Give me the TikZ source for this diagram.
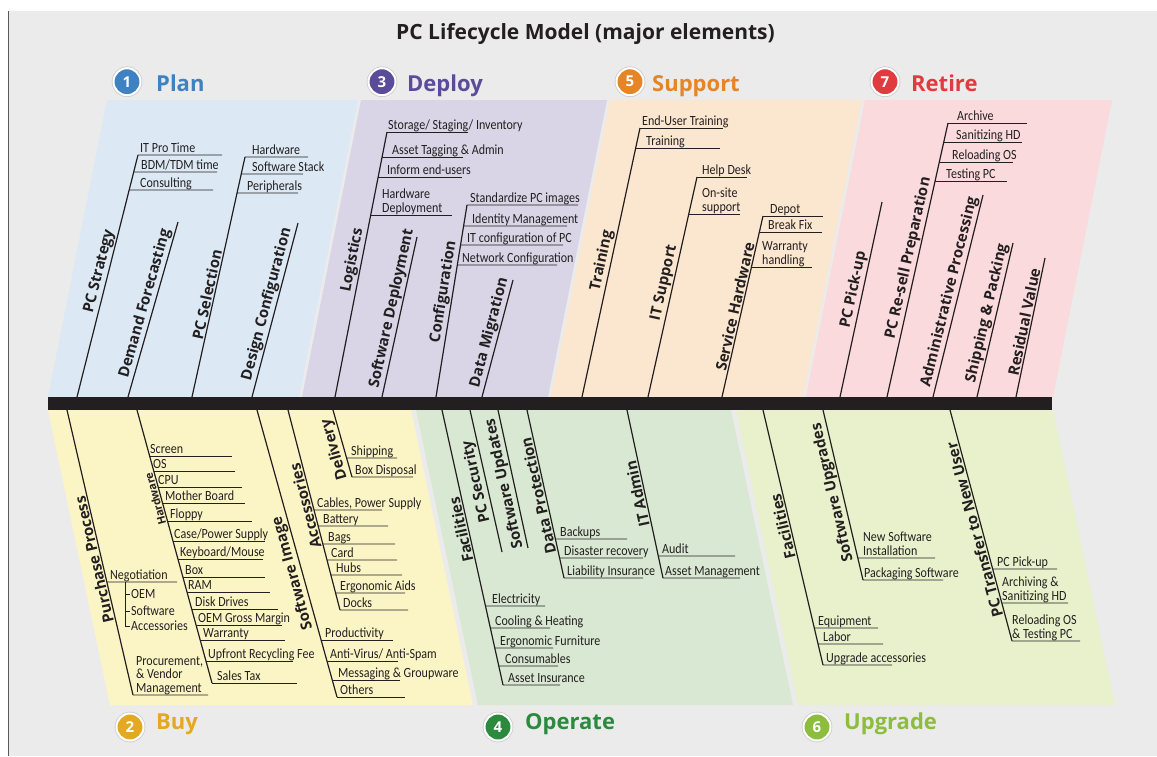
\documentclass[tikz,border=0pt]{standalone}
\usepackage{fontspec}
\usetikzlibrary{calc}
\newfontfamily\leafface[FakeStretch=0.86]{Carlito}
\newfontfamily\osans{Open Sans}
\newcommand\leaffont{\leafface\fontsize{14}{13.5}\selectfont}
\newcommand\catfont{\osans\bfseries\fontsize{15}{16}\selectfont}
\newcommand\smallcatfont{\osans\bfseries\fontsize{11}{12}\selectfont}
\newcommand\hdrfont{\osans\bfseries\fontsize{22}{24}\selectfont}
\newcommand\numfont{\osans\bfseries\fontsize{15}{16}\selectfont}
\newcommand\titlefont{\osans\bfseries\fontsize{21}{23}\selectfont}
\newcounter{lfc}
\definecolor{bg}{HTML}{EBEBEB}
\definecolor{pPlan}{HTML}{DCE9F5}
\definecolor{pDeploy}{HTML}{D9D5E7}
\definecolor{pSupport}{HTML}{FBE7CF}
\definecolor{pRetire}{HTML}{FADADC}
\definecolor{pBuy}{HTML}{FBF5C6}
\definecolor{pOperate}{HTML}{D9E8D2}
\definecolor{pUpgrade}{HTML}{E9F1CC}
\definecolor{cPlan}{HTML}{3F82C4}
\definecolor{cDeploy}{HTML}{5B4C9A}
\definecolor{cSupport}{HTML}{E58526}
\definecolor{cRetire}{HTML}{E03C3F}
\definecolor{cBuy}{HTML}{E4A922}
\definecolor{cOperate}{HTML}{2B8A3E}
\definecolor{cUpgrade}{HTML}{8CBD3C}
\definecolor{ink}{HTML}{231F20}
% bone: name, x0, y0, x1, y1
\newcommand\bone[5]{%
  \coordinate (#1s) at (#2,#3);
  \coordinate (#1e) at (#4,#5);
  \draw[bone] (#1s) -- (#1e);}
% leaf: bone, y, x end, x text, text
\newcommand\lf[5]{%
  \stepcounter{lfc}%
  \coordinate (lp\arabic{lfc}) at (intersection of #1s--#1e and 0,#2--1200,#2);
  \draw[uline] (lp\arabic{lfc}) -- (#3,#2);
  \node[leaf] (lt\arabic{lfc}) at (#4,#2-0.3) {#5\vphantom{gy}};}
% labels
\newcommand\tlab[4][]{\path (#2s) -- (#2e) node[cat, sloped, pos=#3, above=1pt, #1] (#2l) {#4};}
\newcommand\blab[4][]{\path (#2e) -- (#2s) node[cat, sloped, allow upside down, pos=#3, above=1pt, #1] (#2l) {#4};}
\begin{document}
\begin{tikzpicture}[x=1pt,y=-1pt,
  bone/.style={line width=1.2pt, draw=ink},
  uline/.style={line width=0.9pt, draw=ink},
  leaf/.style={font=\leaffont, anchor=south west, inner sep=0pt, align=left, text=ink},
  cat/.style={font=\catfont, inner sep=0.5pt, text=ink},
  hdr/.style={font=\hdrfont, anchor=base west, inner sep=0pt},
  numc/.style={circle, minimum size=27pt, inner sep=0pt, draw=white, line width=2pt,
    font=\numfont, text=white, preaction={draw=black!20, line width=3.6pt}},
  panel/.style={draw=none}]
\useasboundingbox (0,0) rectangle (1157,756);
\fill[white] (0,0) rectangle (1157,756);
\fill[bg] (9,11) rectangle (1157,756);
\draw[black!65, line width=1.5pt] (8.5,11) -- (8.5,756);
% panels
\fill[pPlan]    (48,397) -- (107,100) -- (358,100) -- (299,397) -- cycle;
\fill[pDeploy]  (302,397) -- (361,100) -- (607,100) -- (548,397) -- cycle;
\fill[pSupport] (551,397) -- (610,100) -- (862,100) -- (803,397) -- cycle;
\fill[pRetire]  (806,397) -- (865,100) -- (1112,100) -- (1053,397) -- cycle;
\fill[pBuy]     (48,410) -- (411,410) -- (473,705) -- (110,705) -- cycle;
\fill[pOperate] (416,410) -- (731,410) -- (793,705) -- (478,705) -- cycle;
\fill[pUpgrade] (736,410) -- (1053,410) -- (1115,705) -- (798,705) -- cycle;
% title
\node[font=\titlefont, text=ink, anchor=base, inner sep=0pt] (title) at (585.5,39.5) {PC Lifecycle Model (major elements)};
% headers
\node[numc, fill=cPlan] (n1) at (127,81.7) {1};
\node[hdr, text=cPlan] (h1) at (156,91.5) {Plan};
\node[numc, fill=cDeploy] (n3) at (382,81.7) {3};
\node[hdr, text=cDeploy] (h3) at (407,91.5) {Deploy};
\node[numc, fill=cSupport] (n5) at (630,81.7) {5};
\node[hdr, text=cSupport] (h5) at (652,91.5) {Support};
\node[numc, fill=cRetire] (n7) at (885,81.7) {7};
\node[hdr, text=cRetire] (h7) at (911,91.5) {Retire};
\node[numc, fill=cBuy] (n2) at (130,727) {2};
\node[hdr, text=cBuy] (h2) at (156,729) {Buy};
\node[numc, fill=cOperate] (n4) at (498,727) {4};
\node[hdr, text=cOperate] (h4) at (525,729) {Operate};
\node[numc, fill=cUpgrade] (n6) at (817,727) {6};
\node[hdr, text=cUpgrade] (h6) at (844,729) {Upgrade};
% ---------- top bones ----------
\bone{P1}{77}{397}{138}{155}
\bone{P2}{128}{397}{178}{222}
\bone{P3}{192}{397}{245}{157}
\bone{P4}{252}{397}{298}{223}
\bone{D1}{335}{397}{387}{132}
\bone{D2}{382}{397}{417}{237}
\bone{D3}{436}{397}{467}{205}
\bone{D4}{482}{397}{513}{280}
\bone{S1}{582}{397}{640}{128}
\bone{S2}{648}{397}{697}{177}
\bone{S3}{722}{397}{763}{216}
\bone{R1}{840}{397}{882}{202}
\bone{R2}{887}{397}{948}{123}
\bone{R3}{933}{397}{983}{195}
\bone{R4}{977}{397}{1013}{243}
\bone{R5}{1016}{397}{1045}{258}
% ---------- bottom bones ----------
\bone{B1}{67}{410}{133}{695}
\bone{B2}{137}{410}{212}{683}
\bone{B3}{257}{410}{337}{697}
\bone{B4}{288}{410}{340}{610}
\bone{B5}{333}{410}{352}{477}
\bone{O1}{442}{410}{503}{685}
\bone{O2}{470}{410}{502}{552}
\bone{O3}{498}{410}{528}{548}
\bone{O4}{527}{410}{564}{578}
\bone{O5}{627}{410}{663}{578}
\bone{G1}{763}{410}{823}{665}
\bone{G2}{823}{410}{863}{580}
\bone{G3}{950}{410}{1012}{641}
% spine
\fill[ink] (48,397) rectangle (1052,410);
% ---------- labels ----------
\tlab{P1}{0.51}{PC Strategy}
\tlab{P2}{0.52}{Demand Forecasting}
\tlab{P3}{0.42}{PC Selection}
\tlab{P4}{0.52}{Design Configuration}
\tlab{D1}{0.51}{Logistics}
\tlab{D2}{0.54}{Software Deployment}
\tlab{D3}{0.54}{Configuration}
\tlab{D4}{0.53}{Data Migration}
\tlab{S1}{0.50}{Training}
\tlab{S2}{0.51}{IT Support}
\tlab{S3}{0.49}{Service Hardware}
\tlab{R1}{0.54}{PC Pick-up}
\tlab{R2}{0.50}{PC Re-sell Preparation}
\tlab{R3}{0.51}{Administrative Processing}
\tlab{R4}{0.53}{Shipping \& Packing}
\tlab{R5}{0.53}{Residual Value}
\blab{B1}{0.48}{Purchase Process}
\blab[font=\smallcatfont]{B2}{0.68}{Hardware}
\blab{B3}{0.44}{Software Image}
\blab{B4}{0.53}{Accessories}
\blab{B5}{0.45}{Delivery}
\blab{O1}{0.57}{Facilities}
\blab{O2}{0.51}{PC Security}
\blab{O3}{0.48}{Software Updates}
\blab{O4}{0.50}{Data Protection}
\blab{O5}{0.51}{IT Admin}
\blab{G1}{0.55}{Facilities}
\blab{G2}{0.53}{Software Upgrades}
\blab{G3}{0.49}{PC Transfer to New User}
% ---------- leaves: Plan ----------
\lf{P1}{155}{222}{140}{IT Pro Time}
\lf{P1}{172}{217}{141}{BDM/TDM time}
\lf{P1}{190}{213}{140}{Consulting}
\lf{P3}{157}{308}{252}{Hardware}
\lf{P3}{174}{303}{252}{Software Stack}
\lf{P3}{193}{298}{247}{Peripherals}
% Deploy
\lf{D1}{132}{468}{388}{Storage/ Staging/ Inventory}
\lf{D1}{157}{463}{392}{Asset Tagging \& Admin}
\lf{D1}{177}{462}{387}{Inform end-users}
\lf{D1}{215}{452}{382}{Hardware\\Deployment}
\lf{D3}{205}{578}{470}{Standardize PC images}
\lf{D3}{226}{567}{472}{Identity Management}
\lf{D3}{245}{563}{467}{IT configuration of PC}
\lf{D3}{265}{557}{462}{Network Configuration}
% Support
\lf{S1}{128}{723}{642}{End-User Training}
\lf{S1}{148}{720}{646}{Training}
\lf{S2}{177}{747}{702}{Help Desk}
\lf{S2}{214}{740}{702}{On-site\\support}
\lf{S3}{216}{823}{770}{Depot}
\lf{S3}{232}{822}{768}{Break Fix}
\lf{S3}{267}{812}{762}{Warranty\\handling}
% Retire
\lf{R2}{123}{1027}{957}{Archive}
\lf{R2}{142}{1022}{956}{Sanitizing HD}
\lf{R2}{162}{1013}{952}{Reloading OS}
\lf{R2}{181}{1007}{946}{Testing PC}
% Buy
\lf{B1}{582}{177}{110}{Negotiation}
\draw[uline] (125,582) -- (125,626);
\draw[uline] (125,594) -- (130,594);
\draw[uline] (125,611) -- (130,611);
\draw[uline] (125,626) -- (130,626);
\node[leaf, anchor=west] (neg1) at (131,594) {OEM};
\node[leaf, anchor=west] (neg2) at (131,611) {Software};
\node[leaf, anchor=west] (neg3) at (131,626) {Accessories};
\lf{B1}{695}{208}{136}{Procurement,\\\& Vendor\\Management}
\lf{B2}{456}{232}{150}{Screen}
\lf{B2}{471}{235}{153}{OS}
\lf{B2}{487}{242}{158}{CPU}
\lf{B2}{503}{245}{165}{Mother Board}
\lf{B2}{521}{252}{170}{Floppy}
\lf{B2}{541}{265}{174}{Case/Power Supply}
\lf{B2}{559}{263}{180}{Keyboard/Mouse}
\lf{B2}{577}{265}{185}{Box}
\lf{B2}{592}{270}{188}{RAM}
\lf{B2}{609}{278}{195}{Disk Drives}
\lf{B2}{625}{282}{198}{OEM Gross Margin}
\lf{B2}{640}{285}{203}{Warranty}
\lf{B2}{661}{293}{208}{Upfront Recycling Fee}
\lf{B2}{683}{297}{217}{Sales Tax}
\lf{B3}{640}{393}{325}{Productivity}
\lf{B3}{661}{398}{330}{Anti-Virus/ Anti-Spam}
\lf{B3}{680}{400}{338}{Messaging \& Groupware}
\lf{B3}{697}{405}{340}{Others}
\lf{B4}{510}{382}{317}{Cables, Power Supply}
\lf{B4}{526}{388}{323}{Battery}
\lf{B4}{544}{395}{328}{Bags}
\lf{B4}{560}{397}{331}{Card}
\lf{B4}{575}{402}{336}{Hubs}
\lf{B4}{593}{405}{340}{Ergonomic Aids}
\lf{B4}{610}{408}{343}{Docks}
\lf{B5}{458}{397}{351}{Shipping}
\lf{B5}{477}{413}{355}{Box Disposal}
% Operate
\lf{O1}{606}{545}{492}{Electricity}
\lf{O1}{628}{550}{495}{Cooling \& Heating}
\lf{O1}{648}{553}{500}{Ergonomic Furniture}
\lf{O1}{666}{558}{505}{Consumables}
\lf{O1}{685}{560}{508}{Asset Insurance}
\lf{O4}{539}{627}{560}{Backups}
\lf{O4}{558}{643}{564}{Disaster recovery}
\lf{O4}{578}{643}{567}{Liability Insurance}
\lf{O5}{556}{735}{662}{Audit}
\lf{O5}{578}{740}{665}{Asset Management}
% Upgrade
\lf{G1}{628}{878}{818}{Equipment}
\lf{G1}{644}{883}{823}{Labor}
\lf{G1}{665}{892}{826}{Upgrade accessories}
\lf{G2}{558}{935}{863}{New Software\\Installation}
\lf{G2}{580}{943}{864}{Packaging Software}
\lf{G3}{569}{1057}{997}{PC Pick-up}
\lf{G3}{603}{1068}{1002}{Archiving \&\\Sanitizing HD}
\lf{G3}{641}{1080}{1012}{Reloading OS\\\& Testing PC}
\end{tikzpicture}
\end{document}
